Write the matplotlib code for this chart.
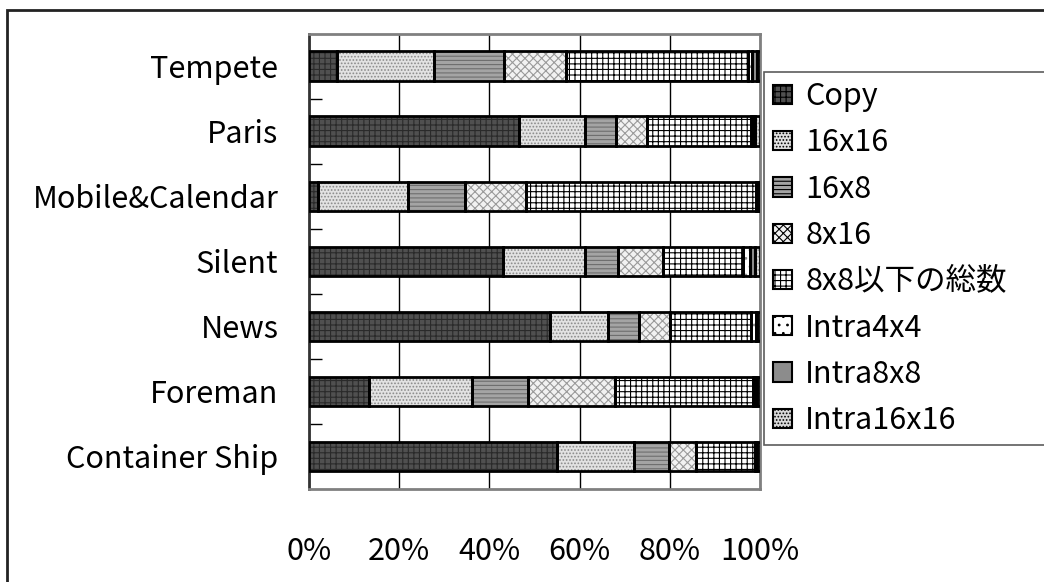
import matplotlib
matplotlib.use('Agg')
import matplotlib.pyplot as plt
from matplotlib.patches import Rectangle
import numpy as np

plt.rcParams['font.family'] = ['Noto Sans CJK JP', 'DejaVu Sans']
plt.rcParams['hatch.linewidth'] = 0.8

### データ (上から順)
sequences = ['Tempete', 'Paris', 'Mobile&Calendar', 'Silent', 'News', 'Foreman', 'Container Ship']
modes = ['Copy', '16x16', '16x8', '8x16', '8x8以下の総数', 'Intra4x4', 'Intra8x8', 'Intra16x16']

copy_ = [6.1, 46.6, 2.1, 42.9, 53.4, 13.2, 54.9]
p16x16 = [21.6, 14.6, 19.8, 18.3, 13.0, 22.9, 17.2]
p16x8 = [15.6, 6.8, 12.7, 7.2, 6.8, 12.5, 7.8]
p8x16 = [13.7, 6.9, 13.5, 10.0, 6.8, 19.2, 5.9]
p8x8 = [40.4, 23.0, 51.3, 17.9, 17.9, 30.7, 13.1]
intra4x4 = [0.9, 0.6, 0.2, 1.5, 1.2, 0.3, 0.2]
intra8x8 = [1.0, 0.3, 0.2, 1.0, 0.2, 0.5, 0.3]
intra16x16 = [0.7, 1.2, 0.4, 1.2, 0.7, 0.7, 0.6]

series = [copy_, p16x16, p16x8, p8x16, p8x8, intra4x4, intra8x8, intra16x16]

# (塗り色, ハッチ色, ハッチ)
styles = [
    ('#505050', '#2a2a2a', '+++'),
    ('#e2e2e2', '#8a8a8a', '.....'),
    ('#a4a4a4', '#6e6e6e', '----'),
    ('#f2f2f2', '#9a9a9a', 'xxxx'),
    ('#ffffff', '#000000', '+++'),
    ('#ffffff', '#909090', '..'),
    ('#8c8c8c', '#707070', ''),
    ('#d8d8d8', '#8a8a8a', '.....'),
]

fig = plt.figure(figsize=(10.44, 5.82), dpi=100)
ax = fig.add_axes([0.296, 0.1598, 0.432, 0.7826])

y = np.arange(len(sequences))
data = np.array(series, dtype=float)
data = data / data.sum(axis=0) * 100  # 100%に正規化
left = np.zeros(len(sequences))
handles = []
for i, name in enumerate(modes):
    fc, hc, hatch = styles[i]
    ax.barh(y, data[i], left=left, height=0.45, color=fc, edgecolor=hc,
            hatch=hatch, linewidth=0, zorder=3)
    ax.barh(y, data[i], left=left, height=0.45, facecolor='none',
            edgecolor='black', linewidth=2, zorder=4)
    left += data[i]
    handles.append(Rectangle((0, 0), 1, 1, facecolor=fc, edgecolor='black',
                             hatch=hatch, linewidth=1.5))

ax.set_xlim(0, 100)
ax.set_ylim(len(sequences) - 0.5, -0.5)
ax.set_yticks(y)
ax.set_yticklabels(sequences, fontsize=22)
ax.set_yticks(np.arange(len(sequences) - 1) + 0.5, minor=True)
ax.tick_params(axis='y', which='major', length=0, pad=22)
ax.tick_params(axis='y', which='minor', length=9, width=1, direction='in')
ax.set_xticks([0, 20, 40, 60, 80, 100])
ax.set_xticklabels(['0%', '20%', '40%', '60%', '80%', '100%'], fontsize=22)
ax.tick_params(axis='x', length=0, pad=34)
ax.grid(axis='x', color='black', linewidth=1, zorder=0)
for s in ax.spines.values():
    s.set_color('#808080')
    s.set_linewidth(2)
ax.spines['left'].set_color('#333333')

# 凡例 (右端ははみ出す)
leg = fig.legend(handles, modes, loc='upper left',
                 bbox_to_anchor=(764 / 1044, 0, 0.3, 1 - 72 / 582), mode='expand',
                 fontsize=22, frameon=True, fancybox=False, edgecolor='#333333',
                 handlelength=0.6, handleheight=0.6, handletextpad=0.45,
                 labelspacing=0.5, borderpad=0.3, borderaxespad=0)
leg.get_frame().set_linewidth(1.2)

# 外枠
fig.patches.append(Rectangle((7 / 1044, -0.1), 1.2, 1.1 - 10 / 582,
                             transform=fig.transFigure, fill=False,
                             edgecolor='#222222', linewidth=2))

fig.savefig('out.png', dpi=100)
